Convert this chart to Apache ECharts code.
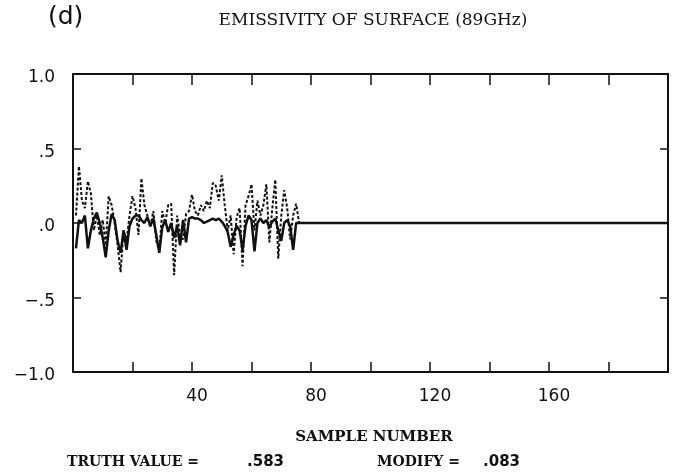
<!DOCTYPE html>
<html>
<head>
<meta charset="utf-8">
<script src="https://cdn.jsdelivr.net/npm/echarts@6/dist/echarts.min.js"></script>
<style>html,body{margin:0;padding:0;background:#fff;}#chart{width:685px;height:473px;}</style>
</head>
<body>
<div id="chart"></div>
<script>
// Values for samples 1..76 (solid = thick line, dotted = dotted line)
var solidValues = [
  -0.17, 0.02, 0.00, 0.05, -0.17, -0.05, 0.03, 0.07, 0.00, -0.10,
  -0.23, -0.05, 0.06, 0.02, -0.12, -0.20, -0.05, -0.18, -0.02, 0.03,
  0.05, 0.05, 0.02, 0.00, 0.04, -0.02, 0.03, -0.08, -0.20, -0.03,
  0.02, -0.06, 0.00, -0.10, -0.02, -0.15, 0.02, -0.13, 0.03, 0.04,
  0.03, 0.03, 0.02, 0.00, 0.01, 0.02, 0.03, 0.02, 0.03, 0.01,
  -0.02, -0.06, -0.16, -0.08, -0.02, -0.05, -0.18, -0.02, 0.05, 0.02,
  -0.19, 0.00, 0.03, 0.00, 0.02, -0.03, 0.01, 0.03, -0.05, -0.12,
  0.00, 0.02, -0.02, -0.18, 0.00, 0.00
];
var dottedValues = [
  0.05, 0.38, 0.15, 0.10, 0.28, 0.20, -0.05, 0.05, -0.08, 0.02,
  -0.15, 0.18, 0.12, 0.00, -0.15, -0.33, -0.05, -0.12, 0.05, 0.18,
  0.10, -0.08, 0.30, 0.12, 0.05, -0.03, 0.08, -0.12, -0.19, 0.08,
  0.00, 0.12, 0.13, -0.35, 0.05, -0.08, -0.11, 0.06, 0.08, 0.19,
  0.08, 0.05, 0.12, 0.08, 0.15, 0.10, 0.27, 0.25, 0.15, 0.32,
  0.12, -0.05, 0.05, -0.21, 0.04, 0.10, -0.29, 0.12, 0.18, 0.26,
  -0.05, 0.15, 0.05, 0.12, 0.26, -0.13, 0.10, 0.29, -0.24, 0.05,
  0.22, 0.10, -0.11, 0.05, 0.13, 0.00
];
var tailSamples = [77, 200];
var tailValues = [0, 0];
var xTickLabels = [40, 80, 120, 160];
var yTickLabels = {'1': '1.0', '0.5': '.5', '0': '.0', '-0.5': '\u2212.5', '-1': '\u22121.0'};
var titleText = 'EMISSIVITY OF SURFACE (89GHz)';
var panelLabel = '(d)';
var xAxisTitle = 'SAMPLE NUMBER';
var truthLabel = 'TRUTH VALUE =';
var truthValue = '.583';
var modifyLabel = 'MODIFY =';
var modifyValue = '.083';

var solidData = solidValues.map(function (v, i) { return [i + 1, v]; });
tailSamples.forEach(function (s, i) { solidData.push([s, tailValues[i]]); });
var dottedData = dottedValues.map(function (v, i) { return [i + 1, v]; });

var ink = '#111';
var chart = echarts.init(document.getElementById('chart'));
function xAxisDef(pos, showLabel, tickLen) {
  return {
    type: 'value', min: 0, max: 200, interval: 20, position: pos,
    axisLine: { onZero: false, lineStyle: { color: ink, width: 2 } },
    axisTick: { inside: true, length: tickLen, lineStyle: { color: ink, width: 1.5 } },
    axisLabel: {
      show: showLabel, color: ink, fontSize: 17, fontFamily: 'DejaVu Sans', margin: 16,
      padding: [0, 0, 0, 10],
      formatter: function (v) { return xTickLabels.indexOf(v) >= 0 ? String(v) : ''; }
    },
    splitLine: { show: false }
  };
}
function yAxisDef(pos, showLabel) {
  return {
    type: 'value', min: -1, max: 1, interval: 0.5, position: pos,
    axisLine: { onZero: false, lineStyle: { color: ink, width: 2 } },
    axisTick: { inside: true, length: 8, lineStyle: { color: ink, width: 1.5 } },
    axisLabel: {
      show: showLabel, color: ink, margin: 18,
      formatter: function (v) { var t = yTickLabels[String(v)]; return t ? '{a|' + t + '}' : ''; },
      rich: { a: { fontSize: 17, fontFamily: 'DejaVu Sans', color: ink, padding: [8, 0, 0, 0] } }
    },
    splitLine: { show: false }
  };
}
chart.setOption({
  animation: false,
  backgroundColor: '#fff',
  grid: { left: 73, right: 17, top: 74, bottom: 101 },
  xAxis: [xAxisDef('bottom', true, 10), xAxisDef('top', false, 11)],
  yAxis: [yAxisDef('left', true), yAxisDef('right', false)],
  graphic: [
    { type: 'text', left: 48, top: 5, style: { text: panelLabel, font: '25px "DejaVu Sans"', fill: ink } },
    { type: 'text', x: 373, y: 21, style: { text: titleText, font: '17px "DejaVu Serif"', fill: ink, align: 'center', verticalAlign: 'middle' } },
    { type: 'text', x: 374, y: 437, style: { text: xAxisTitle, font: 'bold 15px "DejaVu Serif"', fill: ink, align: 'center', verticalAlign: 'middle' } },
    { type: 'text', x: 67, y: 462, style: { text: truthLabel, font: 'bold 14px "DejaVu Serif"', fill: ink, verticalAlign: 'middle' } },
    { type: 'text', x: 247, y: 462, style: { text: truthValue, font: 'bold 15px "DejaVu Sans"', fill: ink, verticalAlign: 'middle' } },
    { type: 'text', x: 377, y: 462, style: { text: modifyLabel, font: 'bold 14px "DejaVu Serif"', fill: ink, verticalAlign: 'middle' } },
    { type: 'text', x: 483, y: 462, style: { text: modifyValue, font: 'bold 15px "DejaVu Sans"', fill: ink, verticalAlign: 'middle' } }
  ],
  series: [
    {
      type: 'line', data: dottedData, showSymbol: false, symbol: 'none',
      lineStyle: { color: ink, width: 2, type: [3, 2] }, z: 2
    },
    {
      type: 'line', data: solidData, showSymbol: false, symbol: 'none',
      lineStyle: { color: ink, width: 2.5 }, z: 3
    }
  ]
});
</script>
</body>
</html>
